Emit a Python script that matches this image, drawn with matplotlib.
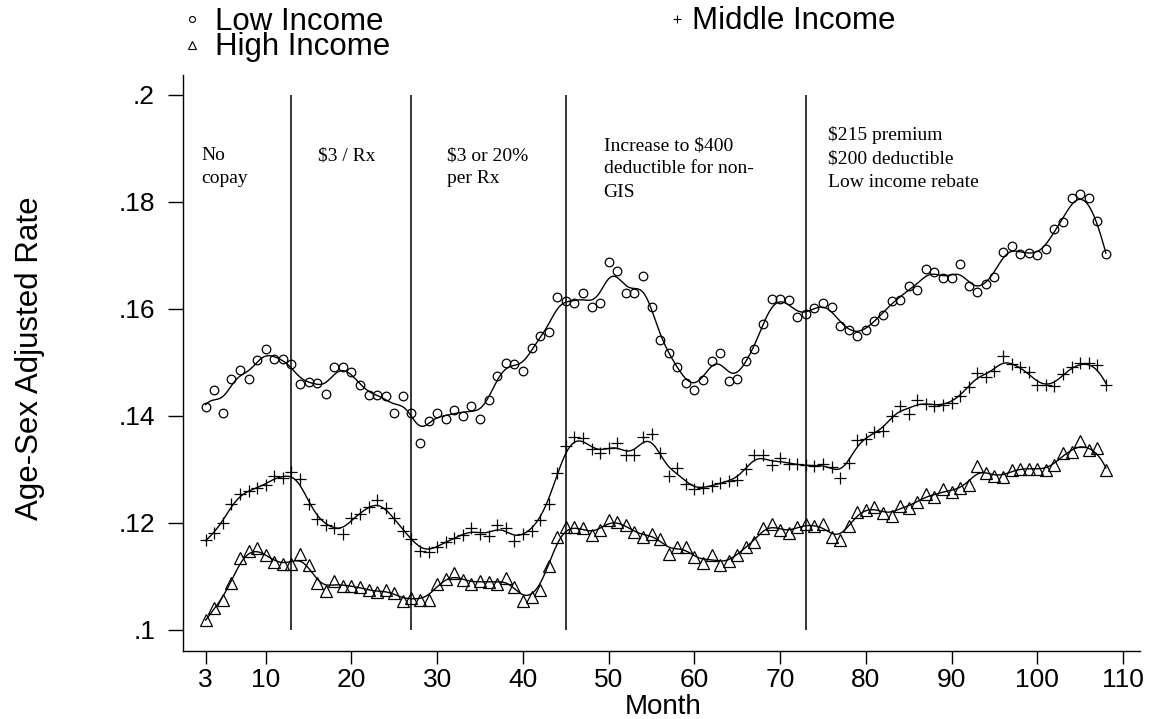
import numpy as np
import matplotlib
matplotlib.use("Agg")
import matplotlib.pyplot as plt
from matplotlib.lines import Line2D
from matplotlib.transforms import blended_transform_factory

plt.rcParams['font.family'] = ['Liberation Sans', 'DejaVu Sans']

months = list(range(3, 109))

low_income = [
    0.1416, 0.1448, 0.1405, 0.1469, 0.1485, 0.1469, 0.1505, 0.1525, 0.1507, 0.1507,
    0.1496, 0.1460, 0.1463, 0.1462, 0.1440, 0.1492, 0.1492, 0.1481, 0.1458, 0.1439,
    0.1439, 0.1437, 0.1405, 0.1437, 0.1405, 0.1349, 0.1391, 0.1405, 0.1393, 0.1411,
    0.1400, 0.1418, 0.1394, 0.1430, 0.1474, 0.1498, 0.1497, 0.1483, 0.1527, 0.1549,
    0.1556, 0.1622, 0.1614, 0.1610, 0.1629, 0.1604, 0.1610, 0.1687, 0.1670, 0.1629,
    0.1630, 0.1662, 0.1603, 0.1541, 0.1517, 0.1491, 0.1461, 0.1449, 0.1466, 0.1503,
    0.1517, 0.1465, 0.1468, 0.1502, 0.1524, 0.1571, 0.1619, 0.1618, 0.1616, 0.1584,
    0.1591, 0.1602, 0.1610, 0.1604, 0.1568, 0.1561, 0.1550, 0.1560, 0.1578, 0.1589,
    0.1615, 0.1617, 0.1643, 0.1635, 0.1675, 0.1668, 0.1657, 0.1658, 0.1684, 0.1642,
    0.1632, 0.1647, 0.1660, 0.1707, 0.1718, 0.1702, 0.1705, 0.1700, 0.1712, 0.1750,
    0.1762, 0.1808, 0.1814, 0.1808, 0.1765, 0.1702]

middle_income = [
    0.1167, 0.1181, 0.1199, 0.1235, 0.1254, 0.1260, 0.1265, 0.1270, 0.1287, 0.1284,
    0.1295, 0.1282, 0.1235, 0.1207, 0.1195, 0.1190, 0.1178, 0.1209, 0.1217, 0.1229,
    0.1243, 0.1227, 0.1208, 0.1185, 0.1170, 0.1147, 0.1145, 0.1155, 0.1164, 0.1171,
    0.1177, 0.1189, 0.1179, 0.1175, 0.1195, 0.1189, 0.1165, 0.1178, 0.1184, 0.1205,
    0.1235, 0.1292, 0.1343, 0.1361, 0.1358, 0.1338, 0.1330, 0.1340, 0.1349, 0.1326,
    0.1326, 0.1360, 0.1366, 0.1330, 0.1287, 0.1303, 0.1272, 0.1262, 0.1265, 0.1268,
    0.1274, 0.1278, 0.1280, 0.1301, 0.1326, 0.1326, 0.1307, 0.1320, 0.1309, 0.1309,
    0.1307, 0.1305, 0.1310, 0.1304, 0.1284, 0.1311, 0.1354, 0.1357, 0.1370, 0.1371,
    0.1399, 0.1418, 0.1404, 0.1430, 0.1421, 0.1419, 0.1420, 0.1424, 0.1436, 0.1454,
    0.1480, 0.1473, 0.1484, 0.1512, 0.1496, 0.1491, 0.1482, 0.1457, 0.1457, 0.1455,
    0.1478, 0.1491, 0.1499, 0.1499, 0.1494, 0.1458]

high_income = [
    0.1017, 0.1041, 0.1056, 0.1087, 0.1134, 0.1147, 0.1153, 0.1140, 0.1126, 0.1122,
    0.1123, 0.1142, 0.1120, 0.1087, 0.1072, 0.1091, 0.1081, 0.1082, 0.1079, 0.1073,
    0.1070, 0.1074, 0.1068, 0.1054, 0.1059, 0.1056, 0.1056, 0.1086, 0.1094, 0.1105,
    0.1093, 0.1086, 0.1091, 0.1089, 0.1086, 0.1097, 0.1079, 0.1053, 0.1061, 0.1074,
    0.1118, 0.1174, 0.1192, 0.1192, 0.1190, 0.1176, 0.1187, 0.1205, 0.1202, 0.1195,
    0.1182, 0.1174, 0.1179, 0.1170, 0.1142, 0.1154, 0.1154, 0.1135, 0.1124, 0.1140,
    0.1120, 0.1128, 0.1139, 0.1155, 0.1164, 0.1190, 0.1198, 0.1187, 0.1180, 0.1192,
    0.1198, 0.1193, 0.1197, 0.1174, 0.1167, 0.1193, 0.1220, 0.1224, 0.1230, 0.1218,
    0.1212, 0.1232, 0.1228, 0.1238, 0.1253, 0.1248, 0.1262, 0.1257, 0.1265, 0.1270,
    0.1306, 0.1293, 0.1287, 0.1285, 0.1298, 0.1301, 0.1301, 0.1301, 0.1298, 0.1307,
    0.1330, 0.1332, 0.1353, 0.1336, 0.1340, 0.1299]

# policy changes (month) and the text printed in each period
policy_months = [13, 27, 45, 73]
period_notes = [
    (2.45, 160, ["No", "copay"]),
    (16.1, 160, ["$3 / Rx"]),
    (31.1, 160, ["$3 or 20%", "per Rx"]),
    (49.4, 150, ["Increase to $400", "deductible for non-", "GIS"]),
    (75.6, 140, ["$215 premium", "$200 deductible", "Low income rebate"]),
]

xticks = [3, 10, 20, 30, 40, 50, 60, 70, 80, 90, 100, 110]
yticks = [0.1, 0.12, 0.14, 0.16, 0.18, 0.2]
ytick_labels = [".1", ".12", ".14", ".16", ".18", ".2"]


def local_linear(x, y, grid, bw=1.0):
    # gaussian-weighted local linear fit
    x = np.asarray(x, float)
    y = np.asarray(y, float)
    fit = []
    for g in grid:
        w = np.sqrt(np.exp(-0.5 * ((x - g) / bw) ** 2))
        A = np.column_stack([np.ones_like(x), x - g]) * w[:, None]
        beta = np.linalg.lstsq(A, y * w, rcond=None)[0]
        fit.append(beta[0])
    return np.array(fit)


W, H = 1150, 719
fig = plt.figure(figsize=(W / 100, H / 100), dpi=100)
ax = fig.add_axes([182.5 / W, 1 - 651 / H, (1140 - 182.5) / W, (651 - 75) / H])

grid = np.linspace(3, 108, 600)
series = [
    (low_income, 'o', 6.2),
    (middle_income, '+', 8.0),
    (high_income, '^', 8.5),
]
for vals, mk, ms in series:
    ax.plot(months, vals, linestyle='none', marker=mk, ms=ms,
            mfc='none', mec='black', mew=0.9)
    ax.plot(grid, local_linear(months, vals, grid), color='black', lw=1.0)

ax.vlines(policy_months, 0.1, 0.2, color='black', lw=1.1)

ax.set_xlim(0.29, 111.98)
ax.set_ylim(0.09598, 0.20374)
ax.set_xticks(xticks)
ax.set_yticks(yticks)
ax.set_yticklabels(ytick_labels)
ax.spines['top'].set_visible(False)
ax.spines['right'].set_visible(False)
for s in ['left', 'bottom']:
    ax.spines[s].set_linewidth(1.0)
ax.tick_params(axis='y', direction='out', length=10.8, width=1.0, pad=9, labelsize=19)
ax.tick_params(axis='x', direction='out', length=9.4, width=1.0, pad=3, labelsize=19)

ax.set_xlabel("Month", fontsize=20)
ax.xaxis.label.set_va('center')
ax.xaxis.set_label_coords(0.502, -0.0972)
ax.set_ylabel("Age-Sex Adjusted Rate", fontsize=22.5)
ax.yaxis.label.set_va('center')
ax.yaxis.set_label_coords(-0.159, 0.508)

# period annotations, one baseline per line
trans = blended_transform_factory(ax.transData, fig.transFigure)
for xm, base, lines in period_notes:
    for i, line in enumerate(lines):
        ax.text(xm, 1 - (base + i * 23.4) / H, line, transform=trans,
                family=['Liberation Serif', 'DejaVu Serif'], fontsize=14,
                ha='left', va='baseline')

# key above the plot: symbols, then the labels (left column as one block)
key_marks = [('o', 4.3, 192, 19), ('+', 5.5, 677, 19), ('^', 6.0, 192, 45)]
for mk, ms, mx, my in key_marks:
    fig.add_artist(Line2D([mx / W], [1 - my / H], marker=mk, ms=ms, mfc='none',
                          mec='black', mew=0.8, linestyle='none',
                          transform=fig.transFigure))
fig.text(215 / W, 1 - 6.5 / H, "Low Income\nHigh Income", fontsize=22.5,
         ha='left', va='top', linespacing=0.82)
fig.text(692 / W, 1 - 29 / H, "Middle Income", fontsize=22.5,
         ha='left', va='baseline')

fig.savefig("out.png", dpi=100)
